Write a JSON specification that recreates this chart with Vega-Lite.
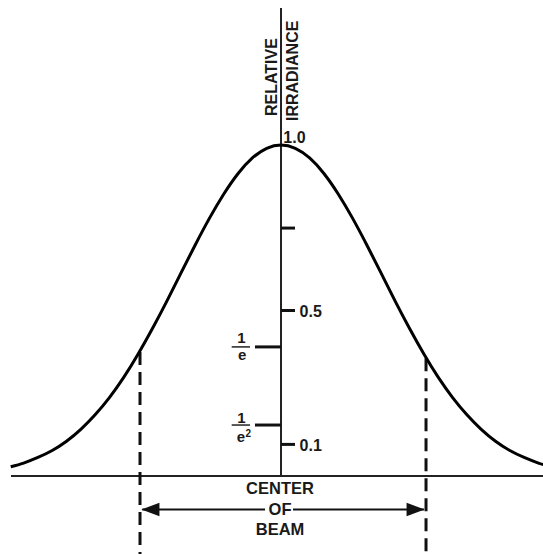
{
  "$schema": "https://vega.github.io/schema/vega-lite/v6.json",
  "width": 543,
  "height": 554,
  "autosize": {"type": "none"},
  "padding": 0,
  "background": "white",
  "config": {"view": {"stroke": null}},
  "datasets": {
    "curve": [
      {"x": -1.89, "y": 0.028}, {"x": -1.8, "y": 0.039}, {"x": -1.7, "y": 0.056}, {"x": -1.6, "y": 0.077},
      {"x": -1.5, "y": 0.105}, {"x": -1.4, "y": 0.141}, {"x": -1.3, "y": 0.185}, {"x": -1.2, "y": 0.237},
      {"x": -1.1, "y": 0.298}, {"x": -1.0, "y": 0.368}, {"x": -0.9, "y": 0.445}, {"x": -0.8, "y": 0.527},
      {"x": -0.7, "y": 0.613}, {"x": -0.6, "y": 0.698}, {"x": -0.5, "y": 0.779}, {"x": -0.4, "y": 0.852},
      {"x": -0.3, "y": 0.914}, {"x": -0.2, "y": 0.961}, {"x": -0.1, "y": 0.99}, {"x": 0.0, "y": 1.0},
      {"x": 0.1, "y": 0.99}, {"x": 0.2, "y": 0.961}, {"x": 0.3, "y": 0.914}, {"x": 0.4, "y": 0.852},
      {"x": 0.5, "y": 0.779}, {"x": 0.6, "y": 0.698}, {"x": 0.7, "y": 0.613}, {"x": 0.8, "y": 0.527},
      {"x": 0.9, "y": 0.445}, {"x": 1.0, "y": 0.368}, {"x": 1.1, "y": 0.298}, {"x": 1.2, "y": 0.237},
      {"x": 1.3, "y": 0.185}, {"x": 1.4, "y": 0.141}, {"x": 1.5, "y": 0.105}, {"x": 1.6, "y": 0.077},
      {"x": 1.7, "y": 0.056}, {"x": 1.8, "y": 0.039}, {"x": 1.85, "y": 0.033}
    ],
    "axisLines": [
      {"x": 0, "x2": 0, "y": 0, "y2": 1.414},
      {"x": -1.888, "x2": 1.85, "y": 0, "y2": 0}
    ],
    "ticks": [
      {"x": 0, "x2": 0.098, "y": 0.749, "y2": 0.749},
      {"x": 0, "x2": 0.098, "y": 0.5, "y2": 0.5},
      {"x": 0, "x2": 0.098, "y": 0.0955, "y2": 0.0955},
      {"x": -0.182, "x2": 0, "y": 0.39, "y2": 0.39},
      {"x": -0.182, "x2": 0, "y": 0.154, "y2": 0.154}
    ],
    "fractionBars": [
      {"x": -0.345, "x2": -0.217, "y": 0.39, "y2": 0.39},
      {"x": -0.345, "x2": -0.217, "y": 0.154, "y2": 0.154}
    ],
    "dashed": [
      {"x": -0.986, "x2": -0.986, "y": 0.375, "y2": -0.26},
      {"x": 1.014, "x2": 1.014, "y": 0.356, "y2": -0.26}
    ],
    "shaft": [
      {"x": -0.97, "x2": -0.112, "y": -0.101, "y2": -0.101},
      {"x": 0.084, "x2": 1.0, "y": -0.101, "y2": -0.101}
    ],
    "headLeft": [{"x": -0.976, "y": -0.101}],
    "headRight": [{"x": 1.004, "y": -0.101}],
    "valueLabels": [
      {"x": 0.016, "y": 1.022, "label": "1.0"},
      {"x": 0.13, "y": 0.494, "label": "0.5"},
      {"x": 0.13, "y": 0.092, "label": "0.1"}
    ],
    "centerLabels": [
      {"x": -0.007, "y": -0.0378, "label": "CENTER"},
      {"x": -0.007, "y": -0.1027, "label": "OF"},
      {"x": -0.007, "y": -0.163, "label": "BEAM"}
    ],
    "fractionLabels": [
      {"x": -0.276, "y": 0.4155, "label": "1"},
      {"x": -0.272, "y": 0.3667, "label": "e"},
      {"x": -0.276, "y": 0.176, "label": "1"},
      {"x": -0.28, "y": 0.119, "label": "e"}
    ],
    "superscripts": [
      {"x": -0.228, "y": 0.128, "label": "2"}
    ],
    "titleLabels": [
      {"x": -0.063, "y": 1.205, "label": "RELATIVE"},
      {"x": 0.087, "y": 1.224, "label": "IRRADIANCE"}
    ]
  },
  "encoding": {
    "x": {"field": "x", "type": "quantitative", "axis": null, "scale": {"domain": [-1.965, 1.832], "nice": false, "zero": false}},
    "y": {"field": "y", "type": "quantitative", "axis": null, "scale": {"domain": [-0.2356, 1.438], "nice": false, "zero": false}}
  },
  "layer": [
    {
      "data": {"name": "axisLines"},
      "mark": {"type": "rule", "stroke": "#222222", "strokeWidth": 2},
      "encoding": {"x2": {"field": "x2"}, "y2": {"field": "y2"}}
    },
    {
      "data": {"name": "ticks"},
      "mark": {"type": "rule", "stroke": "#111111", "strokeWidth": 3},
      "encoding": {"x2": {"field": "x2"}, "y2": {"field": "y2"}}
    },
    {
      "data": {"name": "fractionBars"},
      "mark": {"type": "rule", "stroke": "#222222", "strokeWidth": 1.5},
      "encoding": {"x2": {"field": "x2"}, "y2": {"field": "y2"}}
    },
    {
      "data": {"name": "dashed"},
      "mark": {"type": "rule", "stroke": "#111111", "strokeWidth": 3, "strokeDash": [13, 7]},
      "encoding": {"x2": {"field": "x2"}, "y2": {"field": "y2"}}
    },
    {
      "data": {"name": "shaft"},
      "mark": {"type": "rule", "stroke": "#111111", "strokeWidth": 2},
      "encoding": {"x2": {"field": "x2"}, "y2": {"field": "y2"}}
    },
    {
      "data": {"name": "headLeft"},
      "mark": {"type": "point", "shape": "M0,0L2,-0.75L2,0.75Z", "filled": true, "fill": "#111111", "opacity": 1, "strokeWidth": 0, "size": 324}
    },
    {
      "data": {"name": "headRight"},
      "mark": {"type": "point", "shape": "M0,0L-2,-0.75L-2,0.75Z", "filled": true, "fill": "#111111", "opacity": 1, "strokeWidth": 0, "size": 324}
    },
    {
      "data": {"name": "curve"},
      "mark": {"type": "line", "stroke": "#000000", "strokeWidth": 3, "interpolate": "natural"}
    },
    {
      "data": {"name": "valueLabels"},
      "mark": {"type": "text", "align": "left", "baseline": "middle", "font": "Liberation Sans", "fontSize": 16, "fontWeight": "bold", "fill": "#1a1a1a"},
      "encoding": {"text": {"field": "label"}}
    },
    {
      "data": {"name": "centerLabels"},
      "mark": {"type": "text", "align": "center", "baseline": "middle", "font": "Liberation Sans", "fontSize": 16.5, "fontWeight": "bold", "fill": "#1a1a1a"},
      "encoding": {"text": {"field": "label"}}
    },
    {
      "data": {"name": "fractionLabels"},
      "mark": {"type": "text", "align": "center", "baseline": "middle", "font": "Liberation Sans", "fontSize": 15, "fontWeight": "bold", "fill": "#1a1a1a"},
      "encoding": {"text": {"field": "label"}}
    },
    {
      "data": {"name": "superscripts"},
      "mark": {"type": "text", "align": "center", "baseline": "middle", "font": "Liberation Sans", "fontSize": 10, "fontWeight": "bold", "fill": "#1a1a1a"},
      "encoding": {"text": {"field": "label"}}
    },
    {
      "data": {"name": "titleLabels"},
      "mark": {"type": "text", "align": "center", "baseline": "middle", "angle": 270, "font": "Liberation Sans", "fontSize": 16, "fontWeight": "bold", "fill": "#1a1a1a"},
      "encoding": {"text": {"field": "label"}}
    }
  ]
}
